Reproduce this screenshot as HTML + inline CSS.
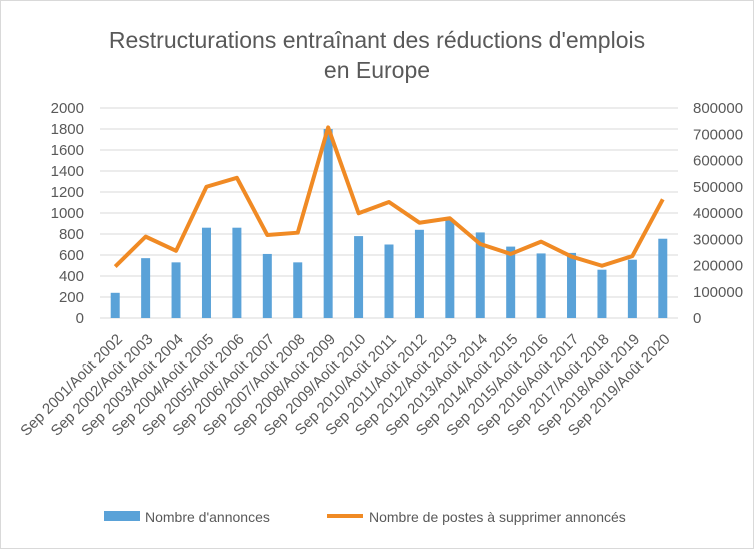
<!DOCTYPE html>
<html><head><meta charset="utf-8"><style>
body{margin:0;background:#fff;font-family:"Liberation Sans",sans-serif;}
svg text{font-family:"Liberation Sans",sans-serif;fill:#595959;}
</style></head><body>
<svg id="c" width="754" height="549">
<rect x="0.5" y="0.5" width="753" height="548" fill="#fff" stroke="#d9d9d9"/>
<text x="377" y="48" text-anchor="middle" font-size="23" style="fill:#595959">Restructurations entraînant des réductions d'emplois</text>
<text x="377" y="78" text-anchor="middle" font-size="23" style="fill:#595959">en Europe</text>
<g id="g"></g>
<g>
<rect x="104" y="511" width="36" height="10" fill="#5aa2d8"/>
<text x="145" y="522" font-size="14">Nombre d'annonces</text>
<line x1="327" y1="516" x2="363" y2="516" stroke="#f08a24" stroke-width="4"/>
<text x="369" y="522" font-size="14">Nombre de postes à supprimer annoncés</text>
</g>
</svg>
<script>
const categories=["Sep 2001/Août 2002","Sep 2002/Août 2003","Sep 2003/Août 2004","Sep 2004/Août 2005","Sep 2005/Août 2006","Sep 2006/Août 2007","Sep 2007/Août 2008","Sep 2008/Août 2009","Sep 2009/Août 2010","Sep 2010/Août 2011","Sep 2011/Août 2012","Sep 2012/Août 2013","Sep 2013/Août 2014","Sep 2014/Août 2015","Sep 2015/Août 2016","Sep 2016/Août 2017","Sep 2017/Août 2018","Sep 2018/Août 2019","Sep 2019/Août 2020"];
const annonces=[240,570,530,860,860,610,530,1800,780,700,840,930,815,680,615,620,460,555,755];
const postes=[196000,310000,256000,500000,534000,316000,325000,726000,399000,442000,363000,380000,282000,244000,291000,234000,199000,236000,452000];
const leftTicks=[0,200,400,600,800,1000,1200,1400,1600,1800,2000];
const rightTicks=[0,100000,200000,300000,400000,500000,600000,700000,800000];
const NS="http://www.w3.org/2000/svg";
const g=document.getElementById('g');
const X0=100,X1=678,Y0=318,Y1=108;
const bw=(X1-X0)/categories.length;
const xc=i=>X0+bw*(i+0.5);
const yl=v=>Y0-(v/2000)*(Y0-Y1);
const yr=v=>Y0-(v/800000)*(Y0-Y1);
function mk(t,a){const e=document.createElementNS(NS,t);for(const k in a)e.setAttribute(k,a[k]);g.appendChild(e);return e;}
leftTicks.forEach(v=>{
 const l=mk('line',{x1:X0,x2:X1,y1:yl(v),y2:yl(v),stroke:'#d9d9d9','stroke-width':1});
 
 
 const t=mk('text',{x:84,y:yl(v)+5,'text-anchor':'end','font-size':15});
 t.textContent=v;
 
 
});
rightTicks.forEach(v=>{
 const t=mk('text',{x:693,y:yr(v)+5,'font-size':15});
 t.textContent=v;
 
 
});
annonces.forEach((v,i)=>{
 const r=mk('rect',{x:xc(i)-4.5,y:yl(v),width:9,height:Y0-yl(v),fill:'#5aa2d8'});
 
 
});
const pl=mk('polyline',{points:postes.map((v,i)=>xc(i)+','+yr(v)).join(' '),fill:'none',stroke:'#f08a24','stroke-width':4,'stroke-linejoin':'round'});


categories.forEach((c,i)=>{
 const ax=xc(i)+8, ay=Y0+22;
 const t=mk('text',{x:ax,y:ay,'text-anchor':'end','font-size':15,transform:`rotate(-45 ${ax} ${ay})`});
 t.textContent=c;
 
 
});
</script>
</body></html>
